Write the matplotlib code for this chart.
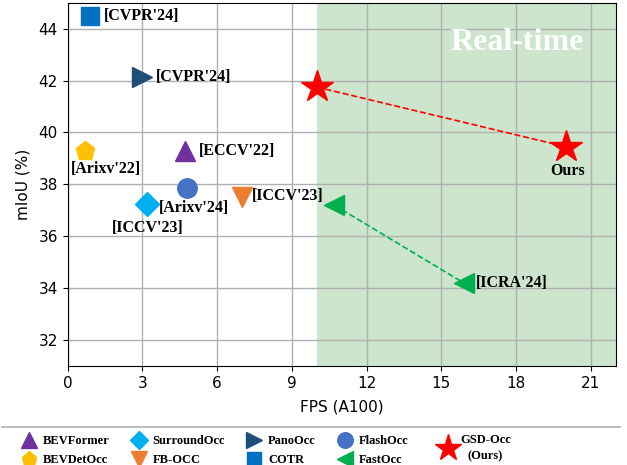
import matplotlib
matplotlib.use("Agg")
import matplotlib.pyplot as plt
from matplotlib.lines import Line2D

# data
methods = ["BEVFormer", "BEVDetOcc", "SurroundOcc", "FB-OCC", "PanoOcc",
           "COTR", "FlashOcc", "FastOcc", "GSD-Occ\n(Ours)"]
markers = ["^", "p", "D", "v", ">", "s", "o", "<", "*"]
colors = ["#7030A0", "#FFC000", "#00B0F0", "#ED7D31", "#1F4E79",
          "#0070C0", "#4472C4", "#00B050", "#FF0000"]
sizes = [14, 14, 12, 14, 14, 13, 14, 14, 24]

fps = [4.7, 0.7, 3.2, 7.0, 3.0, 0.9, 4.8, 10.7, 10.0]
miou = [39.3, 39.3, 37.25, 37.5, 42.15, 44.5, 37.85, 37.2, 41.75]

# second operating points (FastOcc, GSD-Occ)
fast_fps2, fast_miou2 = 15.9, 34.2
ours_fps2, ours_miou2 = 20.0, 39.45

venue_text = ["[ECCV'22]", "[Arixv'22]", "[ICCV'23]", "[ICCV'23]", "[CVPR'24]",
              "[CVPR'24]", "[Arixv'24]", "[ICRA'24]", "Ours"]
venue_xy = [(5.25, 39.3), (1.55, 38.6), (3.2, 36.3), (7.4, 37.55), (3.55, 42.15),
            (1.45, 44.5), (3.65, 37.1), (16.4, 34.2), (20.05, 38.5)]
venue_ha = ["left", "center", "center", "left", "left",
            "left", "left", "left", "center"]

serif = "Liberation Serif"

fig = plt.figure(figsize=(6.27, 4.65), dpi=100)
ax = fig.add_axes([0.108, 0.213, 0.874, 0.781])

ax.axvspan(10, 22, color="green", alpha=0.2, lw=0)
ax.grid(True, color="#b0b0b0", linewidth=1)

ax.plot([fps[8], ours_fps2], [miou[8], ours_miou2], "--", color="red", lw=1.2, zorder=2)
ax.plot([fps[7], fast_fps2], [miou[7], fast_miou2], "--", color="#00B050", lw=1.2, zorder=2)

for i in range(len(methods)):
    ax.plot(fps[i], miou[i], marker=markers[i], color=colors[i], ms=sizes[i],
            linestyle="none", zorder=3)
ax.plot(fast_fps2, fast_miou2, marker="<", color="#00B050", ms=14, linestyle="none", zorder=3)
ax.plot(ours_fps2, ours_miou2, marker="*", color="red", ms=24, linestyle="none", zorder=3)

for t, (x, y), ha in zip(venue_text, venue_xy, venue_ha):
    ax.text(x, y, t, ha=ha, va="center", fontsize=11.5, fontweight="bold",
            family=serif, zorder=4)

ax.text(18.05, 43.45, "Real-time", ha="center", va="center", color="white",
        fontsize=23, fontweight="bold", family=serif)

ax.set_xlim(0, 22)
ax.set_ylim(31, 45)
ax.set_xticks([0, 3, 6, 9, 12, 15, 18, 21])
ax.set_yticks([32, 34, 36, 38, 40, 42, 44])
ax.tick_params(labelsize=11)
ax.set_xlabel("FPS (A100)", fontsize=11, labelpad=6)
ax.set_ylabel("mIoU (%)", fontsize=11, labelpad=6)

# legend strip under the plot
fig.add_artist(Line2D([0.003, 0.989], [0.082, 0.082], color="#b0b0b0", lw=1.2))
handles = [Line2D([], [], marker=m, color=c, linestyle="none",
                  ms=(s * 0.8 if m != "*" else 20))
           for m, c, s in zip(markers, colors, sizes)]
leg_font = {"family": serif, "weight": "bold", "size": 9}
leg1 = fig.legend(handles[:8], methods[:8], loc="upper left", bbox_to_anchor=(0.024, 0.078),
                  ncol=4, frameon=False, prop=leg_font,
                  handletextpad=0.5, columnspacing=1.75, labelspacing=0.6,
                  borderpad=0.0, handlelength=1.2)
leg2 = fig.legend(handles[8:], methods[8:], loc="center left", bbox_to_anchor=(0.688, 0.037),
                  frameon=False, prop=leg_font, handletextpad=0.4,
                  borderpad=0.2, handlelength=1.2)
leg2.get_texts()[0].set_multialignment("center")
leg2.get_texts()[0].set_linespacing(1.5)

fig.savefig("out.png", dpi=100)
